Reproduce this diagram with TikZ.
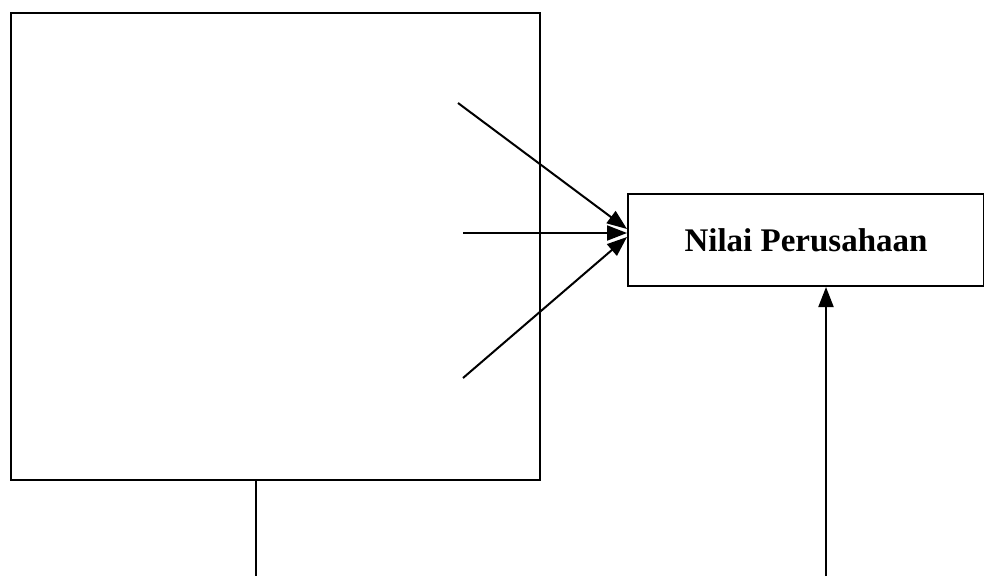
\documentclass[tikz,border=0pt]{standalone}
\usepackage{fontspec}
\setmainfont{Liberation Serif}
\usetikzlibrary{arrows.meta}
\begin{document}
\begin{tikzpicture}[x=1pt,y=-1pt,
  box/.style={draw,line width=2pt},
  conn/.style={line width=2pt,-{Triangle[length=20pt,width=15pt]}},
  plain/.style={line width=2pt}]
\useasboundingbox (0,0) rectangle (984,576);
\draw[box] (11,13) rectangle (540,480);
\coordinate (bigbottom) at (256,480);
\node[box,minimum width=356pt,minimum height=92pt,inner sep=0pt,anchor=north west] (nilai) at (627,193) {};
\node[font=\fontsize{33}{36}\selectfont\bfseries] at (nilai.center) {Nilai Perusahaan};
\coordinate (a1) at (458,103);
\coordinate (a2) at (463,233);
\coordinate (a3) at (463,378);
\coordinate (t1) at (627,229);
\coordinate (t2) at (627,233);
\coordinate (t3) at (627,237);
\coordinate (low1) at (256,576);
\coordinate (low2) at (826,576);
\draw[conn] (a1) -- (t1);
\draw[conn] (a2) -- (t2);
\draw[conn] (a3) -- (t3);
\draw[plain] (bigbottom) -- (low1);
\draw[conn] (low2) -- (nilai.south -| low2);
\end{tikzpicture}
\end{document}
